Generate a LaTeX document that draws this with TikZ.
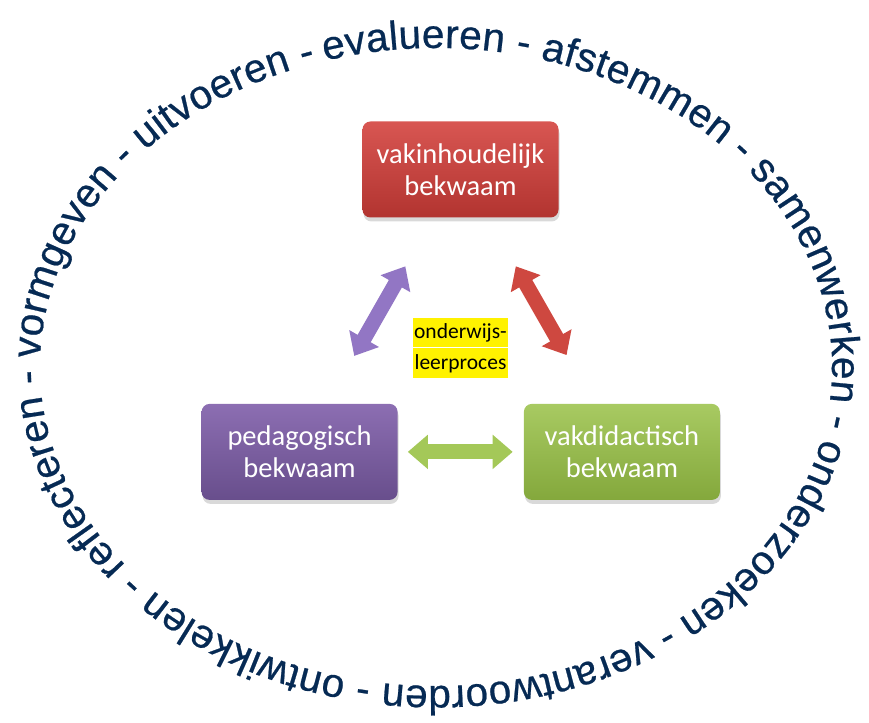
\documentclass[tikz,border=0pt]{standalone}
\usepackage{fontspec}
\setmainfont{Carlito}
\newfontfamily\ringfont[FakeBold=0.6]{Liberation Sans}
\usepackage{tikz}
\usetikzlibrary{arrows.meta,positioning,shadows,decorations.text}

\definecolor{redtop}{RGB}{216,86,82}
\definecolor{redbot}{RGB}{178,52,48}
\definecolor{purtop}{RGB}{140,110,178}
\definecolor{purbot}{RGB}{104,78,140}
\definecolor{grntop}{RGB}{168,202,98}
\definecolor{grnbot}{RGB}{132,168,60}
\definecolor{redarrow}{RGB}{206,72,64}
\definecolor{purarrow}{RGB}{146,118,196}
\definecolor{grnarrow}{RGB}{164,200,88}
\definecolor{ringblue}{RGB}{6,42,84}

\newcommand{\hl}[1]{{\setlength{\fboxsep}{0pt}\colorbox{yellow}{\kern1.5pt\rule[-8.5pt]{0pt}{29.5pt}#1\kern1.5pt}}}

\begin{document}
\begin{tikzpicture}[
    x=1pt, y=1pt,
    box/.style={rectangle, rounded corners=8pt, minimum width=196pt, minimum height=96pt, inner sep=0pt, align=center, text=white, font=\fontsize{28.5}{32}\selectfont, drop shadow={shadow xshift=1pt, shadow yshift=-4pt, opacity=0.3}},
    dblarrow/.style={line width=15pt, {Triangle[width=33pt,length=20pt]}-{Triangle[width=33pt,length=20pt]}}
]
  \useasboundingbox (0,0) rectangle (869,722);

  % ring of activities
  \coordinate (mid) at (436,355);
  \path[decorate, decoration={text along path, text align={fit to path}, text color=ringblue,
      text={|\ringfont\fontsize{40.5}{48}\selectfont|evalueren - afstemmen - samenwerken - onderzoeken - verantwoorden - ontwikkelen - reflecteren - vormgeven - uitvoeren -}}]
    (mid) ++(106.3:396 and 319) arc[start angle=106.3, end angle=-252.3, x radius=396, y radius=319];

  % Nodes
  \node (vak) [box, top color=redtop, bottom color=redbot] at (460.5,552.5) {vakinhoudelijk\\bekwaam};
  \node (ped) [box, top color=purtop, bottom color=purbot, below left=186pt and -35.5pt of vak] {pedagogisch\\bekwaam};
  \node (did) [box, top color=grntop, bottom color=grnbot, below right=186pt and -35pt of vak] {vakdidactisch\\bekwaam};
  \node (proc) [below=100pt of vak, inner sep=0pt, align=center, font=\fontsize{21.5}{30.5}\selectfont] {\hl{onderwijs-}\\\hl{leerproces}};

  % Arrows
  \draw [dblarrow, draw=purarrow, shorten <=55pt, shorten >=56pt] (ped) -- (vak);
  \draw [dblarrow, draw=redarrow, shorten <=56pt, shorten >=56pt] (vak) -- (did);
  \draw [dblarrow, draw=grnarrow, shorten <=10pt, shorten >=11pt] (ped) -- (did);

\end{tikzpicture}
\end{document}
